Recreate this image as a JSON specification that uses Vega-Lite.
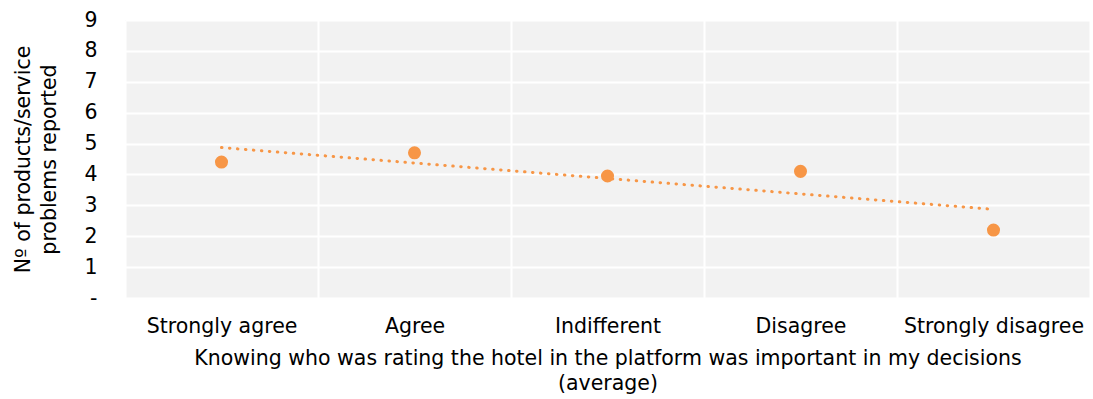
{
  "$schema": "https://vega.github.io/schema/vega-lite/v6.json",
  "width": 965,
  "height": 278,
  "autosize": {"type": "none"},
  "padding": {"left": 125, "top": 20, "right": 3, "bottom": 101},
  "background": "white",
  "config": {
    "view": {"fill": "#f2f2f2", "stroke": null},
    "font": "DejaVu Sans",
    "axis": {
      "labelFont": "DejaVu Sans",
      "titleFont": "DejaVu Sans",
      "labelColor": "#000000",
      "titleColor": "#000000",
      "labelFontSize": 20.5,
      "titleFontSize": 20.5,
      "titleFontWeight": "normal",
      "gridColor": "#ffffff",
      "gridWidth": 2,
      "gridOpacity": 1,
      "domain": false,
      "ticks": false,
      "labelOverlap": false,
      "labelLimit": 0
    }
  },
  "data": {
    "values": [
      {"response": "Strongly agree", "problems": 4.4, "trend": 4.87},
      {"response": "Agree", "problems": 4.7, "trend": null},
      {"response": "Indifferent", "problems": 3.95, "trend": null},
      {"response": "Disagree", "problems": 4.1, "trend": null},
      {"response": "Strongly disagree", "problems": 2.2, "trend": 2.87}
    ]
  },
  "encoding": {
    "x": {
      "field": "response",
      "type": "nominal",
      "sort": ["Strongly agree", "Agree", "Indifferent", "Disagree", "Strongly disagree"],
      "scale": {"type": "band", "paddingInner": 0, "paddingOuter": 0},
      "axis": {
        "labelAngle": 0,
        "labelPadding": 18,
        "labelLimit": 0,
        "tickBand": "extent",
        "grid": true,
        "title": ["Knowing who was rating the hotel in the platform was important in my decisions", "(average)"],
        "titlePadding": 12,
        "titleLineHeight": 25
      }
    }
  },
  "layer": [
    {
      "mark": {"type": "circle", "color": "#F79646", "opacity": 1, "size": 170},
      "encoding": {
        "y": {
          "field": "problems",
          "type": "quantitative",
          "scale": {"domain": [0, 9], "nice": false},
          "axis": {
            "values": [0, 1, 2, 3, 4, 5, 6, 7, 8, 9],
            "labelExpr": "datum.value == 0 ? '-' : datum.label",
            "labelPadding": 28,
            "labelBound": false,
            "title": ["Nº of products/service", "problems reported"],
            "titlePadding": 24,
            "titleLineHeight": 26
          }
        }
      }
    },
    {
      "transform": [{"filter": "datum.trend != null"}],
      "mark": {
        "type": "line",
        "color": "#F79646",
        "strokeWidth": 3,
        "strokeCap": "round",
        "strokeDash": [0.5, 7.5]
      },
      "encoding": {
        "y": {
          "field": "trend",
          "type": "quantitative",
          "scale": {"domain": [0, 9], "nice": false},
          "axis": {
            "values": [0, 1, 2, 3, 4, 5, 6, 7, 8, 9],
            "labelExpr": "datum.value == 0 ? '-' : datum.label",
            "labelPadding": 28,
            "labelBound": false,
            "title": ["Nº of products/service", "problems reported"],
            "titlePadding": 24,
            "titleLineHeight": 26
          }
        }
      }
    }
  ]
}
